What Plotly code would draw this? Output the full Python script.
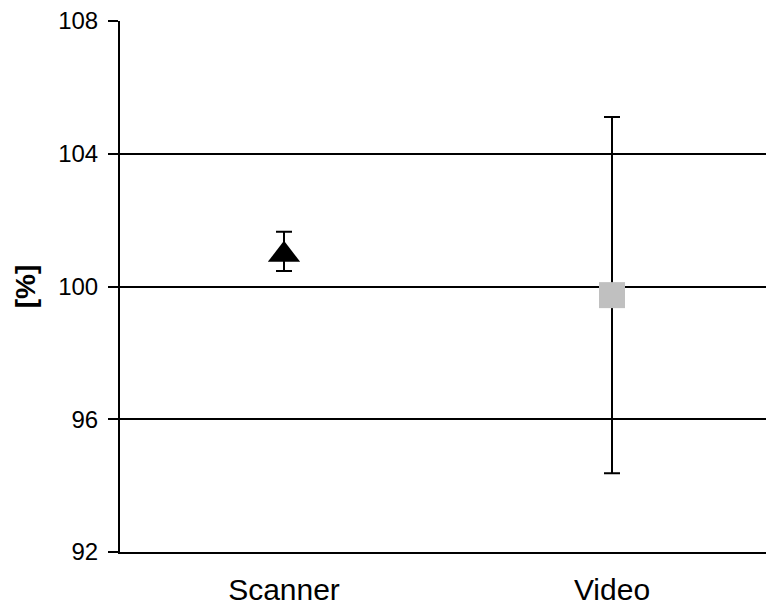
import plotly.graph_objects as go

categories = ["Scanner", "Video"]
means = [101.06, 99.74]
errors = [0.59, 5.37]
symbols = ["triangle-up", "square"]
sizes = [28, 26]
colors = ["#000000", "#c0c0c0"]
y_ticks = [92, 96, 100, 104, 108]
y_range = [92, 108]

# plotly's triangle is not vertically centred on its point: shift its drawing axis
plot_h = 610 - 21 - 58
shift = (sizes[0] / 2) / 4 * (y_range[1] - y_range[0]) / plot_h

fig = go.Figure()
for cat, m, e, s, c, sz in zip(categories, means, errors, symbols, colors, sizes):
    fig.add_trace(go.Scatter(
        x=[cat], y=[m], mode="markers",
        marker=dict(size=1, color="rgba(0,0,0,0)"),
        error_y=dict(type="data", array=[e], visible=True, color="black", thickness=2, width=8),
        showlegend=False, hoverinfo="skip",
    ))
    fig.add_trace(go.Scatter(
        x=[cat], y=[m], mode="markers",
        marker=dict(symbol=s, size=sz, color=c, line=dict(width=0)),
        yaxis="y2" if s.startswith("triangle") else "y",
        showlegend=False,
    ))

fig.update_layout(
    width=766, height=610,
    margin=dict(l=120, r=0, t=21, b=58),
    paper_bgcolor="white", plot_bgcolor="white",
    font=dict(family="Liberation Sans, Arial, sans-serif", color="black"),
    xaxis=dict(
        type="category", categoryorder="array", categoryarray=categories,
        range=[-0.5, 1.4695], showgrid=False, zeroline=False,
        showline=True, linecolor="black", linewidth=2,
        ticks="", tickfont=dict(size=30), ticklabelstandoff=10, automargin=False,
    ),
    yaxis=dict(
        range=y_range, tickvals=y_ticks, ticktext=[str(v) for v in y_ticks],
        showgrid=True, gridcolor="black", gridwidth=2, zeroline=False,
        showline=True, linecolor="black", linewidth=2,
        ticks="outside", ticklen=10, tickwidth=2, tickcolor="black",
        tickfont=dict(size=24), ticklabelstandoff=5, automargin=False,
        title=dict(text="<b>[%]</b>", font=dict(size=28), standoff=14),
    ),
    yaxis2=dict(
        overlaying="y", range=[y_range[0] + shift, y_range[1] + shift],
        visible=False, showgrid=False, zeroline=False,
    ),
)

fig.write_html("out.html")
